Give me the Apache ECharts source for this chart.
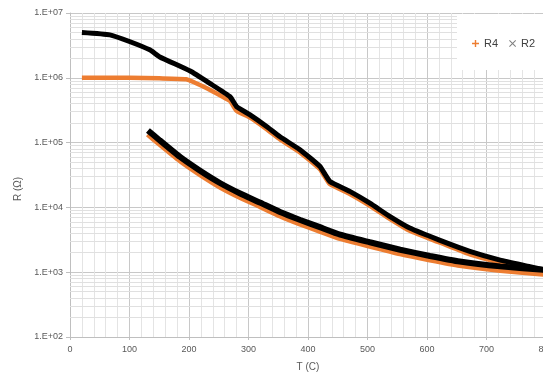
<!DOCTYPE html>
<html>
<head>
<meta charset="utf-8">
<script src="https://cdn.jsdelivr.net/npm/echarts@6/dist/echarts.min.js"></script>
<style>
  html, body { margin: 0; padding: 0; background: #fff; }
  #chart { width: 543px; height: 375px; }
</style>
</head>
<body>
<div id="chart"></div>
<script>
// R4 (orange +) and R2 (black x), upper and lower branches, T in C, R in ohm
var r4UpperT = [20, 60, 100, 150, 195, 210, 230, 255, 269, 280, 302, 331, 353, 387, 420, 429, 437, 471, 504, 538, 571, 622, 672, 723, 773, 800];
var r4UpperR = [1.0e6, 1.0e6, 1.0e6, 9.8e5, 9.5e5, 8.4e5, 6.9e5, 5.2e5, 4.4e5, 3.1e5, 2.45e5, 1.6e5, 1.12e5, 7.0e4, 3.9e4, 2.9e4, 2.28e4, 1.6e4, 1.06e4, 6.6e3, 4.35e3, 2.85e3, 1.88e3, 1.4e3, 1.1e3, 9.7e2];
var r4LowerT = [131, 151, 185, 218, 252, 286, 319, 353, 387, 420, 454, 504, 555, 605, 655, 723, 800];
var r4LowerR = [1.36e5, 9.5e4, 5.3e4, 3.27e4, 2.09e4, 1.44e4, 1.05e4, 7.5e3, 5.6e3, 4.35e3, 3.35e3, 2.55e3, 1.95e3, 1.57e3, 1.29e3, 1.08e3, 9.4e2];

var r2UpperT = [20, 67, 101, 134, 151, 202, 235, 269, 280, 302, 331, 353, 387, 420, 429, 437, 471, 504, 538, 571, 622, 672, 723, 773, 800];
var r2UpperR = [5.0e6, 4.6e6, 3.6e6, 2.7e6, 2.1e6, 1.27e6, 8.2e5, 5.1e5, 3.6e5, 2.7e5, 1.76e5, 1.23e5, 7.7e4, 4.3e4, 3.2e4, 2.5e4, 1.75e4, 1.16e4, 7.2e3, 4.8e3, 3.1e3, 2.1e3, 1.54e3, 1.22e3, 1.07e3];
var r2LowerT = [131, 151, 185, 218, 252, 286, 319, 353, 387, 420, 454, 504, 555, 605, 655, 723, 800];
var r2LowerR = [1.54e5, 1.08e5, 6.0e4, 3.71e4, 2.38e4, 1.64e4, 1.19e4, 8.5e3, 6.4e3, 4.95e3, 3.8e3, 2.9e3, 2.22e3, 1.78e3, 1.46e3, 1.23e3, 1.08e3];

var xTicks = [0, 100, 200, 300, 400, 500, 600, 700, 800];
var yDecades = [100, 1000, 10000, 100000, 1000000, 10000000];
var yMinorSteps = [2, 3, 4, 5, 6, 7, 8, 9];

var gray = '#595959';
var orange = '#ED7D31';
var font = 'Liberation Sans';

function pairs(t, r) {
    var out = [];
    for (var i = 0; i < t.length; i++) out.push([t[i], r[i]]);
    return out;
}

// log minor grid lines at 2..9 x 10^n
var minorLines = [];
for (var d = 0; d < yDecades.length - 1; d++) {
    for (var k = 0; k < yMinorSteps.length; k++) {
        minorLines.push({ yAxis: yDecades[d] * yMinorSteps[k] });
    }
}

function line(name, data, color, width) {
    return {
        name: name,
        type: 'line',
        data: data,
        symbol: 'none',
        smooth: 0.15,
        z: 3,
        lineStyle: { color: color, width: width },
        itemStyle: { color: color }
    };
}

var chart = echarts.init(document.getElementById('chart'));
chart.setOption({
    animation: false,
    grid: { left: 70, right: -3, top: 13, bottom: 38, containLabel: false, outerBoundsMode: 'none' },
    // white box behind the legend, hiding the grid there
    graphic: [{
        type: 'rect',
        z: 10,
        silent: true,
        shape: { x: 457, y: 14, width: 90, height: 56 },
        style: { fill: '#fff' }
    }],
    legend: {
        data: [
            { name: 'R4', icon: 'path://M4,0 L6,0 L6,4 L10,4 L10,6 L6,6 L6,10 L4,10 L4,6 L0,6 L0,4 L4,4 Z',
              itemStyle: { color: orange, borderWidth: 0 }, lineStyle: { color: orange, width: 0 } },
            { name: 'R2', icon: 'path://M1,0 L5,4 L9,0 L10,1 L6,5 L10,9 L9,10 L5,6 L1,10 L0,9 L4,5 L0,1 Z',
              itemStyle: { color: '#7f7f7f', borderWidth: 0 }, lineStyle: { color: '#7f7f7f', width: 0 } }
        ],
        orient: 'horizontal',
        z: 20,
        left: 472,
        top: 38,
        padding: 0,
        itemWidth: 7,
        itemHeight: 7,
        itemGap: 11,
        textStyle: { color: '#404040', fontSize: 11, fontFamily: font }
    },
    xAxis: {
        type: 'value',
        min: xTicks[0],
        max: xTicks[xTicks.length - 1],
        interval: 100,
        name: 'T (C)',
        nameLocation: 'middle',
        nameGap: 25,
        nameTextStyle: { color: gray, fontSize: 10, fontFamily: font },
        axisLine: { show: true, lineStyle: { color: '#bfbfbf' } },
        axisTick: { show: true, length: 3, lineStyle: { color: '#bfbfbf' } },
        axisLabel: { color: gray, fontSize: 9, fontFamily: font, margin: 8 },
        splitLine: { show: true, lineStyle: { color: '#c8c8c8' } },
        minorTick: { show: false, splitNumber: 5 },
        minorSplitLine: { show: true, lineStyle: { color: '#e4e4e4' } }
    },
    yAxis: {
        type: 'log',
        logBase: 10,
        min: yDecades[0],
        max: yDecades[yDecades.length - 1],
        name: 'R (Ω)',
        nameLocation: 'middle',
        nameGap: 44,
        nameTextStyle: { color: gray, fontSize: 10, fontFamily: font, padding: [0, 28, 0, 0] },
        axisLine: { show: true, lineStyle: { color: '#bfbfbf' } },
        axisTick: { show: true, length: 4, lineStyle: { color: '#bfbfbf' } },
        axisLabel: {
            color: gray, fontSize: 9, fontFamily: font, margin: 7,
            formatter: function (v) {
                var e = Math.round(Math.log10(v));
                return '1.E+' + (e < 10 ? '0' : '') + e;
            }
        },
        splitLine: { show: true, lineStyle: { color: '#c8c8c8' } }
    },
    series: [
        {
            name: 'grid',
            type: 'line',
            data: [],
            z: 1,
            silent: true,
            markLine: {
                z: 1,
                silent: true,
                symbol: 'none',
                label: { show: false },
                lineStyle: { color: '#e0e0e0', width: 1, type: 'solid' },
                emphasis: { disabled: true },
                data: minorLines
            }
        },
        line('R4', pairs(r4UpperT, r4UpperR), orange, 4.5),
        line('R4', pairs(r4LowerT, r4LowerR), orange, 6),
        line('R2', pairs(r2UpperT, r2UpperR), '#000', 5),
        line('R2', pairs(r2LowerT, r2LowerR), '#000', 6)
    ]
});
</script>
</body>
</html>
